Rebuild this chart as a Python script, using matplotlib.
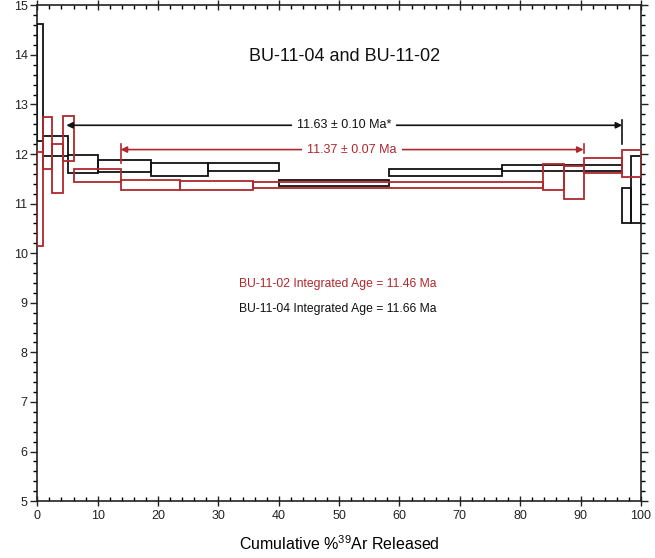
import matplotlib
matplotlib.use("Agg")
import matplotlib.pyplot as plt
from matplotlib.ticker import MultipleLocator
import numpy as np

plt.rcParams['font.family'] = ['Liberation Sans', 'DejaVu Sans']
plt.rcParams['mathtext.fontset'] = 'custom'
plt.rcParams['mathtext.rm'] = 'Liberation Sans'
plt.rcParams['mathtext.it'] = 'Liberation Sans:italic'

# BU-11-04 (black) step-heating: cumulative %39Ar bounds, 2-sigma box low/high ages (Ma)
b04_bounds = [0, 0.9, 5.0, 10.1, 18.8, 28.2, 40.1, 58.3, 77.0, 96.9, 98.3, 100]
b04_low = [12.26, 11.96, 11.62, 11.64, 11.56, 11.65, 11.35, 11.55, 11.65, 10.61, 10.61]
b04_high = [14.62, 12.36, 11.98, 11.87, 11.82, 11.82, 11.48, 11.69, 11.77, 11.32, 11.96]

# BU-11-02 (red)
b02_bounds = [0, 0.9, 2.4, 4.2, 6.1, 13.8, 23.7, 35.7, 83.8, 87.3, 90.5, 96.9, 100]
b02_low = [10.14, 11.69, 11.22, 11.85, 11.44, 11.27, 11.27, 11.32, 11.28, 11.10, 11.62, 11.53]
b02_high = [12.04, 12.74, 12.20, 12.76, 11.69, 11.48, 11.45, 11.43, 11.80, 11.75, 11.92, 12.09]

# plateau arrows
plat04 = dict(x0=4.8, x1=96.9, y=12.58, label="11.63 \u00b1 0.10 Ma*")
plat02 = dict(x0=13.8, x1=90.5, y=12.09, label="11.37 \u00b1 0.07 Ma")

title = "BU-11-04 and BU-11-02"
int02 = "BU-11-02 Integrated Age = 11.46 Ma"
int04 = "BU-11-04 Integrated Age = 11.66 Ma"

BLACK = '#111111'
RED = '#b0282c'

fig = plt.figure(figsize=(6.55, 5.58), dpi=100)
ax = fig.add_axes([0.057, 0.102, 0.9215, 0.8885])

def draw_steps(bounds, low, high, color):
    b = np.array(bounds)
    lo = np.array(low)
    hi = np.array(high)
    ax.bar(b[:-1], hi - lo, width=np.diff(b), bottom=lo, align='edge',
           fill=False, edgecolor=color, linewidth=1.3, zorder=3)

draw_steps(b04_bounds, b04_low, b04_high, BLACK)
draw_steps(b02_bounds, b02_low, b02_high, RED)

def plateau(p, color, fs=9):
    ax.annotate('', xy=(p['x0'], p['y']), xytext=(p['x1'], p['y']),
                arrowprops=dict(arrowstyle='<|-|>', color=color, lw=1.2,
                                mutation_scale=9, shrinkA=0, shrinkB=0), zorder=4)
    ax.text((p['x0'] + p['x1']) / 2, p['y'], p['label'], ha='center', va='center',
            color=color, fontsize=fs, zorder=5,
            bbox=dict(facecolor='white', edgecolor='none', pad=3.5))

plateau(plat04, BLACK)
plateau(plat02, RED)
# end bars
ax.plot([96.9, 96.9], [12.2, 12.68], color=BLACK, lw=1.2, zorder=4)
ax.plot([13.8, 13.8], [11.82, 12.21], color=RED, lw=1.2, zorder=4)
ax.plot([90.5, 90.5], [12.03, 12.21], color=RED, lw=1.2, zorder=4)

ax.text(50.9, 13.96, title, ha='center', va='center', fontsize=13, color=BLACK)
ax.text(33.4, 9.37, int02, ha='left', va='center', fontsize=8.7, color=RED)
ax.text(33.4, 8.88, int04, ha='left', va='center', fontsize=8.7, color=BLACK)

ax.set_xlim(0, 100)
ax.set_ylim(5, 15)
ax.xaxis.set_major_locator(MultipleLocator(10))
ax.xaxis.set_minor_locator(MultipleLocator(2))
ax.yaxis.set_major_locator(MultipleLocator(1))
ax.yaxis.set_minor_locator(MultipleLocator(0.2))

ax.tick_params(axis='x', which='major', direction='inout', length=7, width=1,
               top=True, bottom=True, labelsize=9, pad=3, colors='#222222')
ax.tick_params(axis='x', which='minor', direction='in', length=3, width=1,
               top=True, bottom=True)
ax.tick_params(axis='y', which='major', direction='out', length=5, width=1,
               left=True, right=True, labelsize=9, pad=2, colors='#222222')
ax.tick_params(axis='y', which='minor', direction='out', length=3, width=1,
               left=True, right=True)
for s in ax.spines.values():
    s.set_linewidth(1.2)
    s.set_color('#222222')

ax.set_xlabel("Cumulative %$^{\\mathregular{39}}$Ar Released", fontsize=11.5, labelpad=9)

fig.savefig("out.png", dpi=100)
